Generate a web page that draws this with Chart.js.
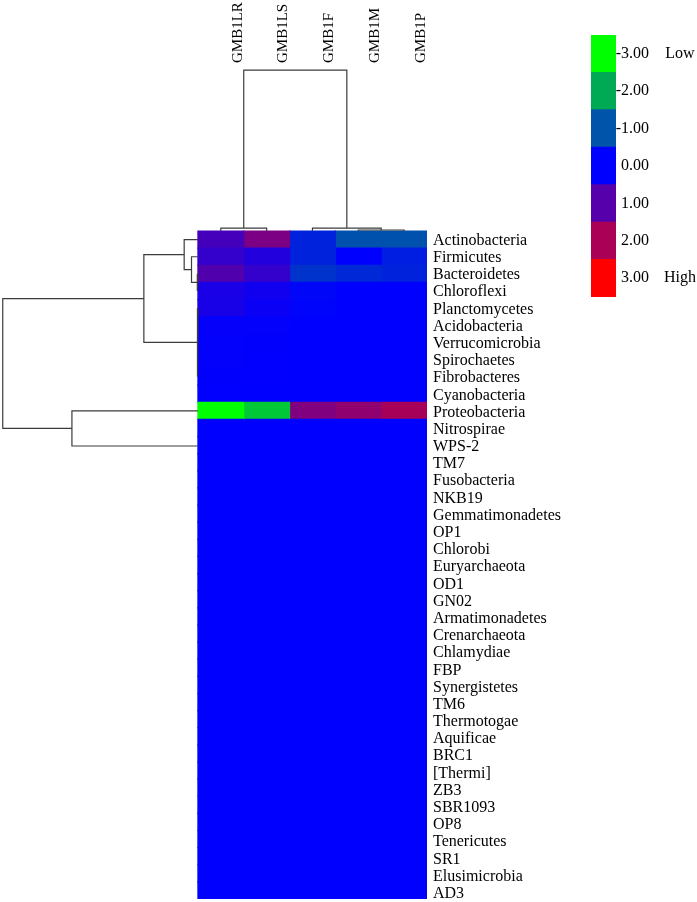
<!DOCTYPE html>
<html>
<head>
<meta charset="utf-8">
<script src="https://cdn.jsdelivr.net/npm/chart.js@4"></script>
<style>
  body { margin: 0; background: #fff; }
  #wrap { position: relative; width: 697px; height: 902px; }
  #heat { position: absolute; left: 0; top: 0; }
  #key { position: absolute; left: 591px; top: 35px; }
</style>
</head>
<body>
<div id="wrap">
  <canvas id="heat" width="697" height="902"></canvas>
  <canvas id="key" width="106" height="262"></canvas>
</div>
<script>
Chart.defaults.font.family = "'Liberation Serif', 'Times New Roman', serif";
Chart.defaults.color = '#000';

// rows (phyla) top to bottom, columns (samples) left to right
const rowNames = [
  'Actinobacteria', 'Firmicutes', 'Bacteroidetes', 'Chloroflexi', 'Planctomycetes',
  'Acidobacteria', 'Verrucomicrobia', 'Spirochaetes', 'Fibrobacteres', 'Cyanobacteria',
  'Proteobacteria', 'Nitrospirae', 'WPS-2', 'TM7', 'Fusobacteria', 'NKB19',
  'Gemmatimonadetes', 'OP1', 'Chlorobi', 'Euryarchaeota', 'OD1', 'GN02',
  'Armatimonadetes', 'Crenarchaeota', 'Chlamydiae', 'FBP', 'Synergistetes', 'TM6',
  'Thermotogae', 'Aquificae', 'BRC1', '[Thermi]', 'ZB3', 'SBR1093', 'OP8',
  'Tenericutes', 'SR1', 'Elusimicrobia', 'AD3'
];
const colNames = ['GMB1LR', 'GMB1LS', 'GMB1F', 'GMB1M', 'GMB1P'];

// z-scores, one array per sample
const valLR = [0.8, 0.6, 0.95, 0.3, 0.28, 0.06, 0.04, 0.03, 0.02, 0.01, -3.0,
  0, 0, 0, 0, 0, 0, 0, 0, 0, 0, 0, 0, 0, 0, 0, 0, 0, 0, 0, 0, 0, 0, 0, 0, 0, 0, 0, 0];
const valLS = [1.45, 0.4, 0.6, 0.19, 0.12, 0.03, 0.02, 0.01, 0.01, 0, -2.35,
  0, 0, 0, 0, 0, 0, 0, 0, 0, 0, 0, 0, 0, 0, 0, 0, 0, 0, 0, 0, 0, 0, 0, 0, 0, 0, 0, 0];
const valF = [-0.4, -0.4, -0.6, -0.08, -0.05, 0, 0, 0, 0, 0, 1.5,
  0, 0, 0, 0, 0, 0, 0, 0, 0, 0, 0, 0, 0, 0, 0, 0, 0, 0, 0, 0, 0, 0, 0, 0, 0, 0, 0, 0];
const valM = [-0.95, 0, -0.47, 0, 0, 0, 0, 0, 0, 0, 1.7,
  0, 0, 0, 0, 0, 0, 0, 0, 0, 0, 0, 0, 0, 0, 0, 0, 0, 0, 0, 0, 0, 0, 0, 0, 0, 0, 0, 0];
const valP = [-0.95, -0.35, -0.4, 0, 0, 0, 0, 0, 0, 0, 1.95,
  0, 0, 0, 0, 0, 0, 0, 0, 0, 0, 0, 0, 0, 0, 0, 0, 0, 0, 0, 0, 0, 0, 0, 0, 0, 0, 0, 0];
const columns = [valLR, valLS, valF, valM, valP];

// colour key
const keyValues = [-3, -2, -1, 0, 1, 2, 3];
const keyLabels = ['-3.00', '-2.00', '-1.00', '0.00', '1.00', '2.00', '3.00'];
const keyEnds = ['Low', '', '', '', '', '', 'High'];

// dendrogram links: [posA, posB, heightA, heightB, joinHeight]
// positions in leaf slots, heights in cell units away from the heatmap
const rowLinks = [
  [2.5, 3.5, 0, 0, 0.02],
  [1.5, 3.0, 0, 0.02, 0.14],
  [0.5, 2.25, 0, 0.14, 0.30],
  [4.5, 8.5, 0, 0, 0.015],
  [1.375, 6.5, 0.30, 0.015, 1.18],
  [10.5, 12.55, 0, 0, 2.75],
  [3.94, 11.52, 1.18, 2.75, 4.26]
];
const colLinks = [
  [3.5, 4.5, 0, 0, 0.06],
  [2.5, 4.0, 0, 0.06, 0.175],
  [0.5, 1.5, 0, 0, 0.175],
  [1.0, 3.25, 0.175, 0.175, 9.40]
];

// sample names sit a little right of their columns in the original,
// row names drift slightly below their rows towards the bottom
const labelShift = 0.76;
const rowLabelDrop = 0.06;
const rowLabelDrift = 0.0035;

function heatColor(v) {
  v = Math.max(-3, Math.min(3, v));
  let r, g, b;
  if (v < 0) {
    const t = -v / 3;
    r = 0; g = 255 * t; b = 255 * (1 - t);
  } else {
    const t = v / 3;
    r = 255 * t; g = 0; b = 255 * (1 - t);
  }
  return 'rgb(' + Math.round(r) + ',' + Math.round(g) + ',' + Math.round(b) + ')';
}

// turn links into one polyline with gaps
function linkPoints(links, side) {
  const pts = [];
  links.forEach(([a, b, ha, hb, h]) => {
    const seg = [[a, ha], [a, h], [b, h], [b, hb]];
    seg.forEach(([p, d]) => {
      if (side === 'row') pts.push({x: -d, y: p});
      else pts.push({x: p, y: -d});
    });
    pts.push({x: null, y: null});
  });
  return pts;
}

const lineStyle = {
  type: 'line', borderColor: '#3c3c3c', borderWidth: 1.2, pointRadius: 0,
  fill: false, spanGaps: false, tension: 0, clip: false
};

const heatSets = columns.map((vals, c) => ({
  type: 'bar',
  indexAxis: 'y',
  grouped: false,
  data: vals.map((v, r) => ({x: [c, c + 1], y: r + 0.5})),
  backgroundColor: vals.map(heatColor),
  borderWidth: 0,
  barPercentage: 1,
  categoryPercentage: 1,
  inflateAmount: 0.6
}));

const heatChart = new Chart(document.getElementById('heat'), {
  type: 'bar',
  data: {
    datasets: [
      Object.assign({data: linkPoints(rowLinks, 'row')}, lineStyle),
      Object.assign({data: linkPoints(colLinks, 'col')}, lineStyle),
      ...heatSets
    ]
  },
  options: {
    responsive: false,
    animation: false,
    events: [],
    layout: {padding: {left: 0, right: 0, top: 0, bottom: 3}},
    plugins: {legend: {display: false}, tooltip: {enabled: false}},
    scales: {
      x: {
        type: 'linear', position: 'top', min: -4.32, max: 5, offset: false,
        grid: {display: false, drawTicks: false}, border: {display: false},
        afterBuildTicks: s => { s.ticks = colNames.map((n, i) => ({value: i + 0.5 + labelShift})); },
        ticks: {
          autoSkip: false, minRotation: 90, maxRotation: 90, padding: 5,
          font: {size: 15}, callback: (v, i) => colNames[i]
        },
        afterFit: s => { s.height = 68; s.paddingLeft = 0; s.paddingRight = 0; }
      },
      y: {
        type: 'linear', position: 'right', reverse: true, min: -9.52, max: 39, offset: false,
        grid: {display: false, drawTicks: false}, border: {display: false},
        afterBuildTicks: s => {
          s.ticks = rowNames.map((n, i) => ({value: i + 0.5 + rowLabelDrop + i * rowLabelDrift}));
        },
        ticks: {autoSkip: false, padding: 6, font: {size: 16}, callback: (v, i) => rowNames[i]},
        afterFit: s => { s.width = 270; s.paddingTop = 0; s.paddingBottom = 0; }
      }
    }
  }
});

const keyChart = new Chart(document.getElementById('key'), {
  type: 'bar',
  data: {
    labels: keyLabels,
    datasets: [{
      data: keyValues.map(() => [0, 1]),
      backgroundColor: keyValues.map(heatColor),
      borderWidth: 0, barPercentage: 1, categoryPercentage: 1, inflateAmount: 0.5
    }]
  },
  options: {
    indexAxis: 'y',
    responsive: false,
    animation: false,
    events: [],
    layout: {padding: 0},
    plugins: {legend: {display: false}, tooltip: {enabled: false}},
    scales: {
      x: {display: false, min: 0, max: 1},
      y: {
        position: 'right', weight: 0,
        grid: {display: false, drawTicks: false}, border: {display: false},
        ticks: {autoSkip: false, padding: 0, crossAlign: 'far', font: {size: 16}},
        afterFit: s => { s.width = 33; s.paddingTop = 0; s.paddingBottom = 0; }
      },
      y2: {
        type: 'category', labels: keyEnds, position: 'right', weight: 1, offset: true,
        grid: {display: false, drawTicks: false}, border: {display: false},
        ticks: {autoSkip: false, padding: 15, crossAlign: 'center', font: {size: 16}},
        afterFit: s => { s.width = 48; s.paddingTop = 0; s.paddingBottom = 0; }
      }
    }
  }
});
</script>
</body>
</html>
